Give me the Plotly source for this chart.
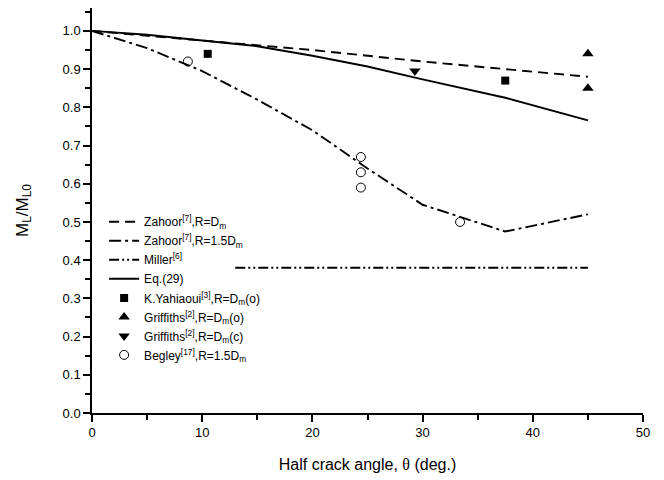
import plotly.graph_objects as go

# Half crack angle (deg.) and normalised limit moment M_L/M_L0
theta_zahoor_dm = [0, 10, 20, 30, 37.5, 45]
ml_zahoor_dm = [1.0, 0.975, 0.95, 0.92, 0.90, 0.88]

theta_zahoor_15 = [0, 5, 10, 15, 20, 25, 30, 37.5, 45]
ml_zahoor_15 = [1.0, 0.955, 0.895, 0.82, 0.74, 0.64, 0.545, 0.475, 0.52]

theta_miller = [13, 45]
ml_miller = [0.38, 0.38]

theta_eq29 = [0, 5, 10, 15, 20, 25, 30, 37.5, 45]
ml_eq29 = [1.0, 0.99, 0.975, 0.96, 0.935, 0.907, 0.873, 0.825, 0.766]

theta_yahiaoui = [10.5, 37.5]
ml_yahiaoui = [0.94, 0.87]

theta_griffiths_o = [45, 45]
ml_griffiths_o = [0.94, 0.85]

theta_griffiths_c = [29.3]
ml_griffiths_c = [0.895]

theta_begley = [8.7, 24.4, 24.4, 24.4, 33.4]
ml_begley = [0.92, 0.67, 0.63, 0.59, 0.50]

x_ticks = [0, 10, 20, 30, 40, 50]
y_ticks = [0.0, 0.1, 0.2, 0.3, 0.4, 0.5, 0.6, 0.7, 0.8, 0.9, 1.0]

FONT = "Arial, Liberation Sans, sans-serif"
LW = 1.9

fig = go.Figure()

# analytical curves (first legend block)
fig.add_trace(go.Scatter(
    x=theta_zahoor_dm, y=ml_zahoor_dm, mode="lines", legend="legend",
    name="Zahoor<sup>[7]</sup>,R=D<sub>m</sub>",
    line=dict(color="black", width=LW, dash="10px,6px")))
fig.add_trace(go.Scatter(
    x=theta_zahoor_15, y=ml_zahoor_15, mode="lines", legend="legend",
    name="Zahoor<sup>[7]</sup>,R=1.5D<sub>m</sub>",
    line=dict(color="black", width=LW, dash="12px,4px,3px,4px")))
fig.add_trace(go.Scatter(
    x=theta_miller, y=ml_miller, mode="lines", legend="legend",
    name="Miller<sup>[6]</sup>",
    line=dict(color="black", width=LW, dash="10px,3px,2px,3px,2px,3px")))
fig.add_trace(go.Scatter(
    x=theta_eq29, y=ml_eq29, mode="lines", legend="legend",
    name="Eq.(29)",
    line=dict(color="black", width=LW)))

# experimental points (second legend block)
fig.add_trace(go.Scatter(
    x=theta_yahiaoui, y=ml_yahiaoui, mode="markers", legend="legend2",
    name="K.Yahiaoui<sup>[3]</sup>,R=D<sub>m</sub>(o)",
    marker=dict(symbol="square", size=8, color="black")))
fig.add_trace(go.Scatter(
    x=theta_griffiths_o, y=ml_griffiths_o, mode="markers", legend="legend2",
    name="Griffiths<sup>[2]</sup>,R=D<sub>m</sub>(o)",
    marker=dict(symbol="triangle-up", size=10, color="black")))
fig.add_trace(go.Scatter(
    x=theta_griffiths_c, y=ml_griffiths_c, mode="markers", legend="legend2",
    name="Griffiths<sup>[2]</sup>,R=D<sub>m</sub>(c)",
    marker=dict(symbol="triangle-down", size=10, color="black")))
fig.add_trace(go.Scatter(
    x=theta_begley, y=ml_begley, mode="markers", legend="legend2",
    name="Begley<sup>[17]</sup>,R=1.5D<sub>m</sub>",
    marker=dict(symbol="circle-open", size=9, color="black",
                line=dict(color="black", width=1))))

axis_common = dict(
    showline=True, linecolor="black", linewidth=1.5,
    ticks="outside", ticklen=7, tickwidth=1.5, tickcolor="black",
    showgrid=False, zeroline=False, mirror=False,
    tickfont=dict(family=FONT, size=13, color="black"),
)

fig.update_xaxes(
    range=[0, 50], tickvals=x_ticks,
    minor=dict(dtick=5, ticks="outside", ticklen=5, tickwidth=1.5,
               tickcolor="black"),
    title=dict(text='Half crack angle, <span style="font-family:Liberation Serif">θ</span> (deg.)',
               font=dict(family=FONT, size=16, color="black"), standoff=19),
    **axis_common)
fig.update_yaxes(
    range=[0, 1.06], tickvals=y_ticks, tickformat=".1f",
    minor=dict(dtick=0.05, ticks="outside", ticklen=5, tickwidth=1.5,
               tickcolor="black"),
    title=dict(text="M<sub>L</sub>/M<sub>L0</sub>",
               font=dict(family=FONT, size=17, color="black"), standoff=30),
    **axis_common)

legend_common = dict(
    xanchor="left", yanchor="top",
    bgcolor="rgba(0,0,0,0)", borderwidth=0,
    font=dict(family=FONT, size=12, color="black"),
    itemsizing="trace", tracegroupgap=0,
)

fig.update_layout(
    width=664, height=480,
    margin=dict(l=92, r=21, t=8, b=67),
    plot_bgcolor="white", paper_bgcolor="white",
    showlegend=True,
    legend=dict(x=0.022, y=0.508, **legend_common),
    legend2=dict(x=0.022, y=0.32, **legend_common),
)

fig.write_html("out.html")
